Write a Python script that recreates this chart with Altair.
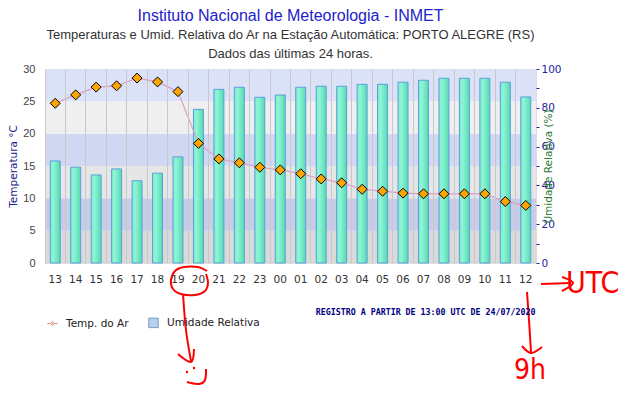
import altair as alt
import pandas as pd

# ---------------- data ----------------
hours = ["13", "14", "15", "16", "17", "18", "19", "20", "21", "22", "23", "00",
         "01", "02", "03", "04", "05", "06", "07", "08", "09", "10", "11", "12"]
temperature = [24.7, 26.0, 27.2, 27.4, 28.6, 28.0, 26.5, 18.5, 16.1, 15.5, 14.8, 14.4,
               13.8, 13.0, 12.4, 11.4, 11.1, 10.8, 10.7, 10.7, 10.7, 10.7, 9.5, 8.9]
humidity = [52.6, 49.4, 45.4, 48.5, 42.4, 46.3, 54.7, 79.2, 89.5, 90.6, 85.4, 86.6,
            90.6, 91.1, 91.1, 92.1, 92.1, 93.2, 94.2, 95.2, 95.2, 95.2, 93.2, 85.6]

temp_ticks = [0, 5, 10, 15, 20, 25, 30]
hum_ticks = [0, 10, 20, 30, 40, 50, 60, 70, 80, 90, 100]

band_lo = [0, 5, 10, 15, 20, 25]
band_hi = [5, 10, 15, 20, 25, 30]
band_colors = ["#dadada", "#c7cde9", "#e6e6e6", "#d1d8f1", "#efefef", "#dbe2f8"]

legend_names = ["Temp. do Ar", "Umidade Relativa"]

title_main = "Instituto Nacional de Meteorologia - INMET"
title_sub = ["Temperaturas e Umid. Relativa do Ar na Estação Automática: PORTO ALEGRE (RS)",
             "Dados das últimas 24 horas."]
registro = "REGISTRO A PARTIR DE 13:00 UTC DE 24/07/2020"

# hand-drawn red annotations (page pixel positions)
ann_strokes = {
    "loop": [(207, 271), (198, 267), (184, 267), (175, 271), (171, 280), (173, 289),
             (181, 294), (195, 295), (205, 291), (208, 283), (206, 274)],
    "arrow1": [(183, 294), (186, 330), (191, 361)],
    "head1": [(178, 354), (191, 362), (194, 349)],
    "mouth": [(206, 369), (205, 380), (199, 384), (187, 382)],
    "arrow2": [(541, 284), (571, 283)],
    "head2": [(562, 277), (573, 283), (562, 291)],
    "arrow3": [(527, 292), (529, 320), (531, 352)],
    "head3": [(522, 346), (531, 353), (542, 347)],
}
ann_dots = [(187, 372), (194, 368)]
ann_texts = [("UTC", 566, 293, 30), ("9h", 514, 379, 28)]
ann_font = "Liberation Sans Narrow, DejaVu Sans Condensed, Liberation Sans"

# ---------------- layout ----------------
W, H = 491, 194
PAD_L, PAD_T = 37, 61
OX, OY = 8 + PAD_L, 8 + PAD_T

df = pd.DataFrame({"hour": hours, "temp": temperature, "hum": humidity})
bands = pd.DataFrame({"lo": band_lo, "hi": band_hi, "c": band_colors})

x_axis = alt.Axis(
    title=registro, bandPosition=0, grid=True, gridColor="#c8c8c8",
    gridWidth=1, ticks=False, domain=False, labelAngle=0, labelFont="DejaVu Sans",
    labelFontSize=10.5, labelColor="#333333", labelPadding=11, zindex=1,
    titleFont="DejaVu Sans Mono", titleFontSize=8.3, titleFontWeight="bold",
    titleColor="#000080", titleAlign="right", titleAnchor="end", titleX=490, titleY=44,
)
x_enc = alt.X("hour:N", sort=None, scale=alt.Scale(paddingInner=0, paddingOuter=0), axis=x_axis)

temp_scale = alt.Scale(domain=[0, 30], nice=False)
hum_scale = alt.Scale(domain=[0, 100], nice=False)

bands_c = alt.Chart(bands).mark_rect().encode(
    x=alt.value(0), x2=alt.value(W),
    y=alt.Y("lo:Q", scale=temp_scale, axis=None), y2="hi:Q",
    color=alt.Color("c:N", scale=None),
)

bar_fill = alt.LinearGradient(
    gradient="linear", x1=0, x2=1, y1=0, y2=0,
    stops=[alt.GradientStop(color="#7debc8", offset=0),
           alt.GradientStop(color="#8ff5d6", offset=0.3),
           alt.GradientStop(color="#55dbb0", offset=1)],
)
bars_c = alt.Chart(df).mark_bar(size=10, fill=bar_fill, stroke="#5b9fdc", strokeWidth=1).encode(
    x=x_enc,
    y=alt.Y("hum:Q", scale=hum_scale, axis=alt.Axis(
        orient="right", values=hum_ticks,
        labelExpr="datum.value % 20 == 0 ? datum.label : ''",
        labelColor="#23239a", labelFont="DejaVu Sans", labelFontSize=10.5, labelPadding=2,
        tickColor="#23239a", tickSize=3, domain=False, grid=False,
        title="Umidade Relativa (%)", titleColor="#2e7d32", titleFont="DejaVu Sans",
        titleFontSize=10.5, titleFontWeight="normal", titleAngle=270, titleX=12, titleY=H / 2,
        titleAlign="center", titleBaseline="middle",
    )),
)

line_c = alt.Chart(df).mark_line(color="#dc9cc8", strokeWidth=1.2).encode(
    x=x_enc,
    y=alt.Y("temp:Q", scale=temp_scale, axis=alt.Axis(
        orient="left", values=temp_ticks, labelFont="Liberation Sans", labelFontSize=11,
        labelColor="#444444", ticks=False, domain=False, grid=False, labelPadding=10,
        title="Temperatura °C", titleColor="#22228a", titleFont="DejaVu Sans",
        titleFontSize=10.5, titleFontWeight="normal", titleAngle=270, titleX=-31.5,
        titleY=H / 2, titleAlign="center", titleBaseline="middle",
    )),
)

pts_c = alt.Chart(df).mark_point(shape="diamond", filled=True, fill="#ffa500", stroke="#000000",
                                 strokeWidth=1, size=100, opacity=1).encode(
    x=x_enc,
    y=alt.Y("temp:Q", scale=temp_scale, axis=None),
)

leg = dict(orient="none", legendX=2, legendY=248, direction="horizontal", title=None,
           labelFont="DejaVu Sans", labelFontSize=10.5, labelColor="#222222",
           symbolSize=90, symbolStrokeWidth=1, columnPadding=17, labelOffset=8, padding=0)
temp_symbol = "M-1.1,0L-0.4,0M0.4,0L1.1,0M0,-0.45L0.45,0L0,0.45L-0.45,0Z"
legend_c = alt.Chart(pd.DataFrame({"serie": legend_names})).mark_point(
    filled=True, size=0, strokeWidth=1).encode(
    fill=alt.Fill("serie:N", scale=alt.Scale(domain=legend_names, range=["#ffa500", "#6ea3dc"]),
                  legend=alt.Legend(**leg)),
    stroke=alt.Stroke("serie:N", scale=alt.Scale(domain=legend_names, range=["#c8649a", "#4070b0"]),
                      legend=alt.Legend(**leg)),
    shape=alt.Shape("serie:N", scale=alt.Scale(domain=legend_names, range=[temp_symbol, "square"]),
                    legend=alt.Legend(**leg)),
)

main = alt.layer(bands_c, bars_c, line_c, pts_c, legend_c).resolve_scale(y="independent")

# ---------------- red annotations ----------------
rows = []
for name, pts in ann_strokes.items():
    for i, (px, py) in enumerate(pts):
        rows.append({"s": name, "i": i, "px": px - OX, "py": py - OY})
ann_df = pd.DataFrame(rows)
ann_lines = alt.Chart(ann_df).mark_line(color="#ff0000", strokeWidth=2, interpolate="cardinal").encode(
    x=alt.X("px:Q", scale=None, axis=None),
    y=alt.Y("py:Q", scale=None, axis=None),
    detail="s:N", order="i:Q",
)
dots_df = pd.DataFrame({"px": [p[0] - OX for p in ann_dots], "py": [p[1] - OY for p in ann_dots]})
ann_dots_c = alt.Chart(dots_df).mark_circle(color="#ff0000", size=6, opacity=1).encode(
    x=alt.X("px:Q", scale=None, axis=None), y=alt.Y("py:Q", scale=None, axis=None))
txt_layers = []
for t, tx, ty, fs in ann_texts:
    txt_layers.append(
        alt.Chart(pd.DataFrame({"t": [t]})).mark_text(
            color="#ff0000", font=ann_font, fontSize=fs, align="left",
            baseline="alphabetic").encode(
            x=alt.value(tx - OX), y=alt.value(ty - OY), text="t:N"))
ann = alt.layer(ann_lines, ann_dots_c, *txt_layers)

chart = alt.layer(main, ann).resolve_scale(x="independent", y="independent").properties(
    width=W, height=H,
    title=alt.Title(
        text=title_main, subtitle=title_sub, anchor="middle", frame="group",
        font="Liberation Sans", fontSize=16, fontWeight="normal", color="#2222c8",
        subtitleFont="Liberation Sans", subtitleFontSize=13, subtitleColor="#333333",
        subtitlePadding=5, subtitleLineHeight=19, offset=2,
    ),
    padding={"left": PAD_L, "top": PAD_T, "right": 613 - PAD_L - W, "bottom": 377 - PAD_T - H},
    autosize=alt.AutoSizeParams(type="none"),
).configure_view(stroke="#cccccc").configure(background="white")

chart.save("out.html", embed_options={"renderer": "svg", "actions": False})
